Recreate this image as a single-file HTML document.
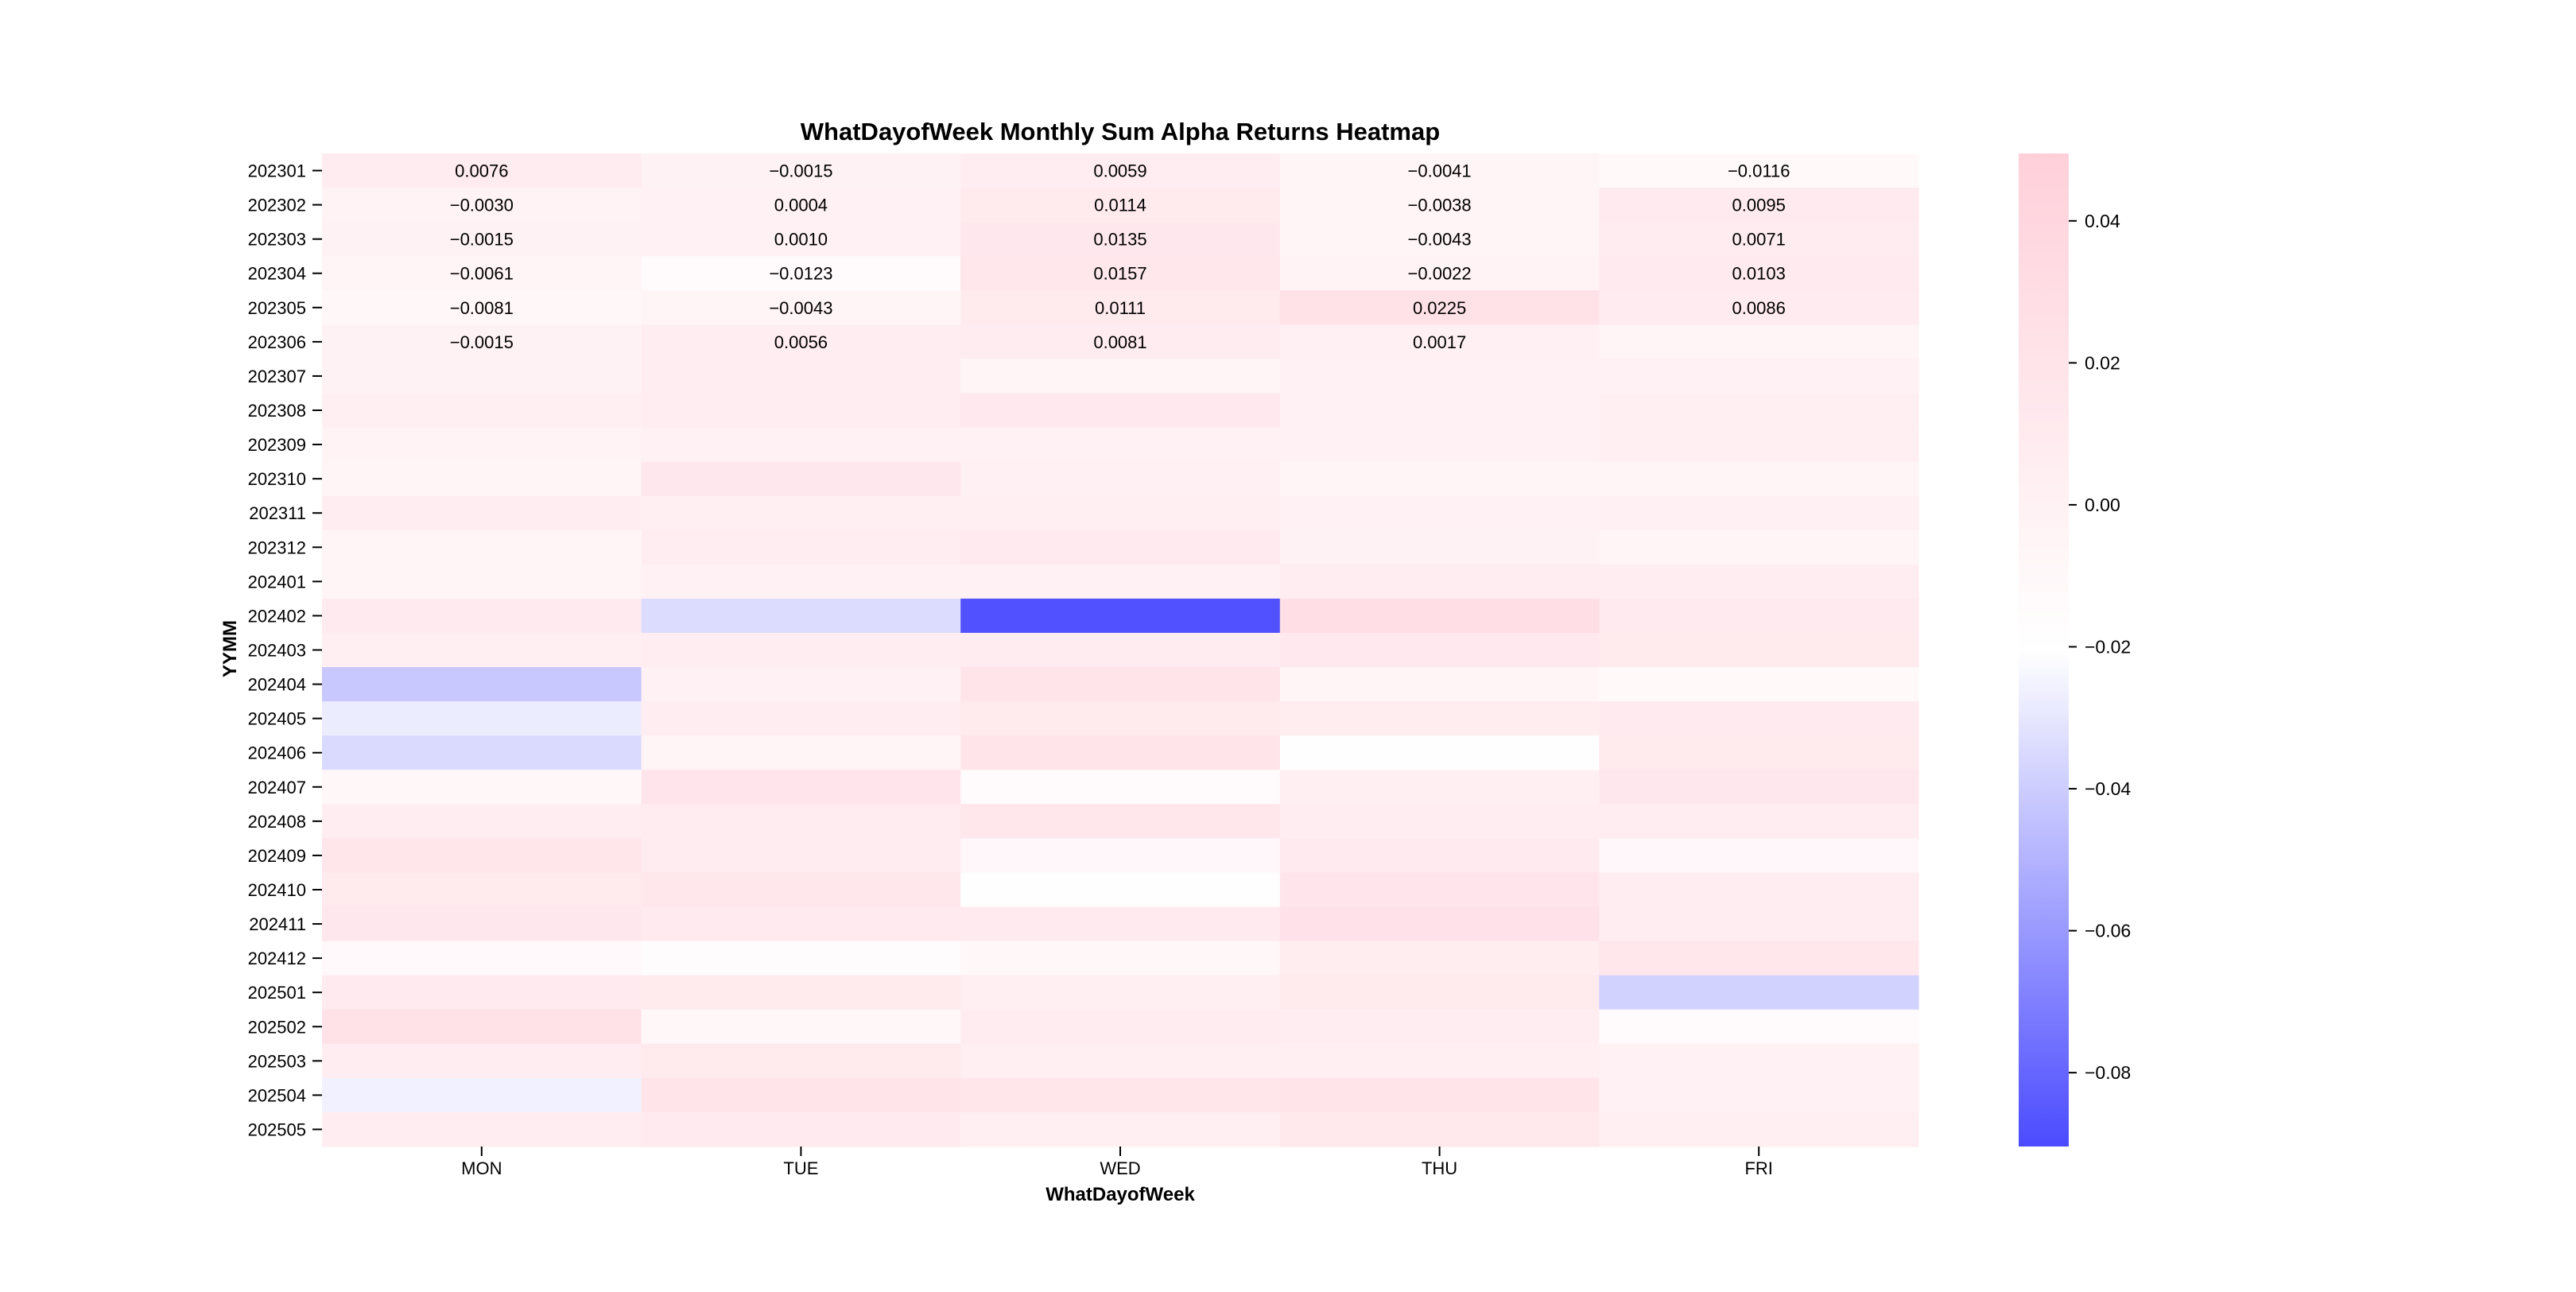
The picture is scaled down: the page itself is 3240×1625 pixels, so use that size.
<!DOCTYPE html>
<html><head><meta charset="utf-8"><style>
html,body{margin:0;padding:0;background:#fff;}
svg text{font-family:"Liberation Sans","WenQuanYi Zen Hei",sans-serif;fill:#000;}
</style></head><body>
<svg id="chart" width="3240" height="1620" xmlns="http://www.w3.org/2000/svg">
<defs><linearGradient id="cbg" x1="0" y1="1" x2="0" y2="0">
<stop offset="0" stop-color="#4b4bff"/><stop offset="0.5" stop-color="#ffffff"/><stop offset="1" stop-color="#ffd0da"/>
</linearGradient></defs>
<text x="1409" y="176" font-size="31" font-weight="bold" text-anchor="middle">WhatDayofWeek Monthly Sum Alpha Returns Heatmap</text>
<g id="cells"></g>
<g id="yaxis"></g>
<g id="xaxis"></g>
<text x="1409" y="1510" font-size="24" font-weight="bold" text-anchor="middle">WhatDayofWeek</text>
<text x="0" y="0" font-size="24" font-weight="bold" text-anchor="middle" transform="translate(297,816) rotate(-90)">YYMM</text>
<rect x="2539" y="193" width="63" height="1249" fill="url(#cbg)"/>
<g id="cbaxis"></g>
</svg>
<script>
const categories = ["MON","TUE","WED","THU","FRI"];
const months = ["202301","202302","202303","202304","202305","202306","202307","202308","202309","202310","202311","202312","202401","202402","202403","202404","202405","202406","202407","202408","202409","202410","202411","202412","202501","202502","202503","202504","202505"];
const monValues = [0.0076,-0.0030,-0.0015,-0.0061,-0.0081,-0.0015,-0.0010,0.0030,-0.0030,-0.0040,0.0060,-0.0050,-0.0050,0.0100,0.0040,-0.0420,-0.0280,-0.0350,-0.0080,0.0060,0.0170,0.0110,0.0140,-0.0120,0.0100,0.0230,0.0060,-0.0260,0.0060];
const tueValues = [-0.0015,0.0004,0.0010,-0.0123,-0.0043,0.0056,0.0060,0.0060,0.0000,0.0140,0.0040,0.0060,0.0000,-0.0340,0.0060,0.0000,0.0060,-0.0050,0.0180,0.0080,0.0080,0.0150,0.0100,-0.0160,0.0110,-0.0080,0.0110,0.0200,0.0100];
const wedValues = [0.0059,0.0114,0.0135,0.0157,0.0111,0.0081,-0.0050,0.0120,0.0000,0.0020,0.0040,0.0100,0.0000,-0.0880,0.0080,0.0200,0.0110,0.0200,-0.0130,0.0150,-0.0090,-0.0190,0.0100,-0.0080,0.0050,0.0080,0.0050,0.0170,0.0040];
const thuValues = [-0.0041,-0.0038,-0.0043,-0.0022,0.0225,0.0017,0.0000,0.0000,0.0000,-0.0060,0.0000,-0.0010,0.0060,0.0280,0.0120,-0.0050,0.0070,-0.0190,0.0030,0.0060,0.0100,0.0180,0.0220,0.0070,0.0110,0.0060,0.0050,0.0200,0.0130];
const friValues = [-0.0116,0.0095,0.0071,0.0103,0.0086,-0.0040,0.0000,0.0030,0.0030,-0.0060,0.0020,-0.0060,0.0060,0.0100,0.0110,-0.0110,0.0090,0.0110,0.0140,0.0060,-0.0090,0.0060,0.0060,0.0160,-0.0380,-0.0150,0.0000,0.0000,0.0040];
const annotatedRows = 6;
const cbTicks = [0.04,0.02,0.00,-0.02,-0.04,-0.06,-0.08];

const series=[monValues,tueValues,wedValues,thuValues,friValues];
const X0=405,X1=2413,Y0=193,Y1=1442,VMIN=-0.0904,VMAX=0.0495;
const cw=(X1-X0)/categories.length, rh=(Y1-Y0)/months.length;
const xPos=i=>X0+i*cw, yPos=j=>Y0+j*rh;
const cbY=v=>Y1-(v-VMIN)/(VMAX-VMIN)*(Y1-Y0);
function color(v){
  let t=(v-VMIN)/(VMAX-VMIN); t=Math.max(0,Math.min(1,t));
  let a,b,s;
  if(t<0.5){a=[75,75,255];b=[255,255,255];s=t/0.5;}else{a=[255,255,255];b=[255,208,218];s=(t-0.5)/0.5;}
  return `rgb(${a.map((c,k)=>Math.round(c+(b[k]-c)*s)).join(',')})`;
}
const NS="http://www.w3.org/2000/svg";
function mk(tag,attrs,parent){const e=document.createElementNS(NS,tag);for(const k in attrs)e.setAttribute(k,attrs[k]);parent.appendChild(e);return e;}
const cells=document.getElementById('cells');
series.forEach((vals,i)=>{
  vals.forEach((v,j)=>{
    const r=mk('rect',{x:xPos(i),y:yPos(j),width:cw+0.6,height:rh+0.6,fill:color(v)},cells);
    
    
    if(j<annotatedRows && !(j===5&&i===4)){
      const t=mk('text',{x:xPos(i)+cw/2,y:yPos(j)+rh/2+8,'font-size':22,'text-anchor':'middle'},cells);
      
      
      t.textContent=(v<0?'\u2212':'')+Math.abs(v).toFixed(4);
    }
  });
});
const ya=document.getElementById('yaxis');
months.forEach((m,j)=>{
  const yc=yPos(j)+rh/2;
  const l=mk('line',{x1:X0-12,x2:X0,y1:yc,y2:yc,stroke:'#000','stroke-width':2},ya);
  
  
  const t=mk('text',{x:X0-20,y:yc+8,'font-size':22,'text-anchor':'end'},ya);
  
  
  t.textContent=m;
});
const xa=document.getElementById('xaxis');
categories.forEach((c,i)=>{
  const xc=xPos(i)+cw/2;
  const l=mk('line',{x1:xc,x2:xc,y1:Y1,y2:Y1+12,stroke:'#000','stroke-width':2},xa);
  
  
  const t=mk('text',{x:xc,y:Y1+35,'font-size':22,'text-anchor':'middle'},xa);
  
  
  t.textContent=c;
});
const cba=document.getElementById('cbaxis');
cbTicks.forEach(v=>{
  const y=cbY(v);
  const l=mk('line',{x1:2602,x2:2612,y1:y,y2:y,stroke:'#000','stroke-width':2},cba);
  
  
  const t=mk('text',{x:2622,y:y+8,'font-size':23},cba);
  
  
  t.textContent=(v<0?'\u2212':'')+Math.abs(v).toFixed(2);
});
</script>
</body></html>
